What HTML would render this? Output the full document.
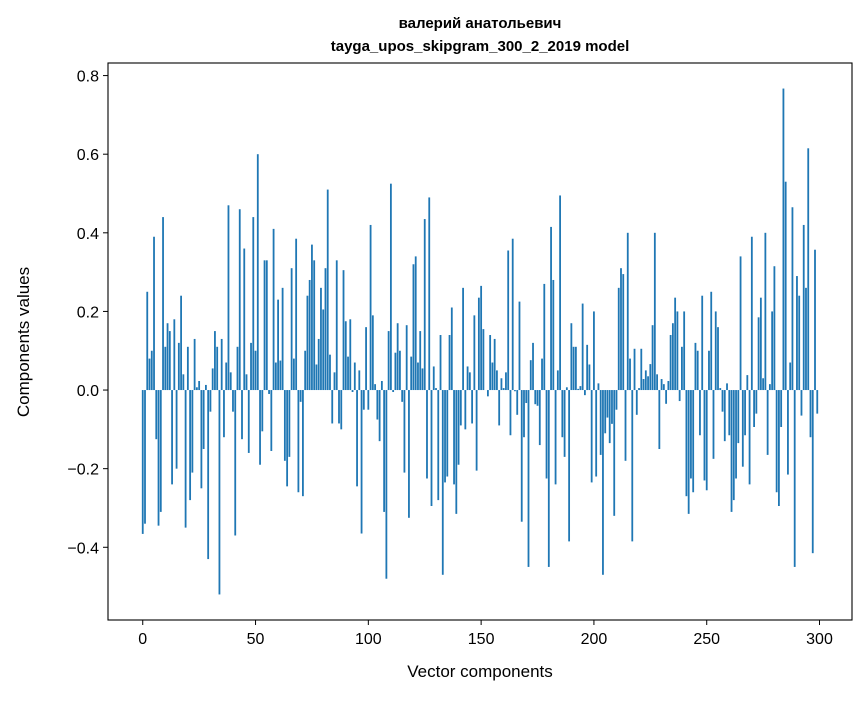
<!DOCTYPE html>
<html><head><meta charset="utf-8"><style>
body{margin:0;background:#fff}
svg text{font-family:"Liberation Sans","DejaVu Sans",sans-serif;fill:#000}
</style></head><body>
<svg id="chart" width="867" height="696" xmlns="http://www.w3.org/2000/svg">
<rect width="867" height="696" fill="#fff"/>
<text x="480" y="28" font-size="15" font-weight="bold" text-anchor="middle">валерий анатольевич</text>
<text x="480" y="51" font-size="15" font-weight="bold" text-anchor="middle">tayga_upos_skipgram_300_2_2019 model</text>
<g id="bars"></g>
<g id="xticks"></g>
<g id="yticks"></g>
<rect x="108" y="63" width="744" height="557" fill="none" stroke="#000" stroke-width="1.1"/>
<text x="480" y="677" font-size="17" text-anchor="middle">Vector components</text>
<text transform="translate(29,342) rotate(-90)" font-size="17" text-anchor="middle">Components values</text>
</svg>
<script>
const values = [
-0.366,-0.34,0.25,0.08,0.10,0.39,-0.125,-0.345,-0.31,0.44,
0.11,0.17,0.15,-0.24,0.18,-0.20,0.12,0.24,0.04,-0.35,
0.11,-0.28,-0.21,0.13,0.007,0.023,-0.25,-0.15,0.013,-0.43,
-0.055,0.055,0.15,0.11,-0.52,0.13,-0.12,0.07,0.47,0.045,
-0.055,-0.37,0.11,0.46,-0.125,0.36,0.04,-0.16,0.12,0.44,
0.10,0.60,-0.19,-0.105,0.33,0.33,-0.01,-0.155,0.41,0.07,
0.23,0.075,0.26,-0.18,-0.245,-0.17,0.31,0.08,0.385,-0.26,
-0.03,-0.27,0.10,0.24,0.28,0.37,0.33,0.065,0.13,0.26,
0.205,0.31,0.51,0.09,-0.085,0.045,0.33,-0.085,-0.10,0.305,
0.175,0.085,0.18,-0.005,0.07,-0.245,0.05,-0.365,-0.05,0.16,
-0.05,0.42,0.19,0.015,-0.075,-0.13,0.023,-0.31,-0.48,0.15,
0.525,-0.005,0.095,0.17,0.10,-0.03,-0.21,0.165,-0.325,0.085,
0.32,0.34,0.07,0.15,0.055,0.435,-0.225,0.49,-0.295,0.06,
0.005,-0.28,0.14,-0.47,-0.235,-0.22,0.14,0.21,-0.24,-0.315,
-0.19,-0.09,0.26,-0.10,0.06,0.045,-0.085,0.19,-0.205,0.235,
0.265,0.155,0.0,-0.016,0.14,0.07,0.13,0.05,-0.09,0.03,
0.005,0.045,0.355,-0.115,0.385,-0.003,-0.063,0.225,-0.335,-0.12,
-0.033,-0.45,0.076,0.12,-0.036,-0.04,-0.14,0.08,0.27,-0.225,
-0.45,0.415,0.28,-0.24,0.05,0.495,-0.12,-0.17,0.007,-0.385,
0.17,0.11,0.11,0.003,0.01,0.22,-0.013,0.115,0.065,-0.235,
0.2,-0.22,0.017,-0.165,-0.47,-0.11,-0.07,-0.135,-0.086,-0.32,
-0.05,0.26,0.31,0.295,-0.18,0.40,0.08,-0.385,0.105,-0.063,
0.005,0.105,0.028,0.05,0.035,0.066,0.165,0.40,0.04,-0.15,
0.028,0.015,-0.035,0.023,0.14,0.17,0.235,0.2,-0.028,0.11,
0.2,-0.27,-0.315,-0.225,-0.26,0.12,0.10,-0.115,0.24,-0.23,
-0.255,0.10,0.25,-0.175,0.2,0.16,0.005,-0.055,-0.13,0.017,
-0.115,-0.31,-0.28,-0.225,-0.135,0.34,-0.195,-0.115,0.038,-0.24,
0.39,-0.094,-0.06,0.185,0.235,0.03,0.40,-0.165,0.015,0.2,
0.315,-0.26,-0.295,-0.094,0.767,0.53,-0.215,0.07,0.465,-0.45,
0.29,0.24,-0.065,0.42,0.26,0.615,-0.12,-0.415,0.357,-0.06
];
const xTickValues = [0,50,100,150,200,250,300];
const yTickValues = [-0.4,-0.2,0.0,0.2,0.4,0.6,0.8];
const yTickLabels = ["\u22120.4","\u22120.2","0.0","0.2","0.4","0.6","0.8"];

const L=108,R=852,T=63,B=620;
const xMin=-15.4,xMax=314.4,yMin=-0.585,yMax=0.832;
const xs=v=>L+(v-xMin)/(xMax-xMin)*(R-L);
const ys=v=>B-(v-yMin)/(yMax-yMin)*(B-T);
const NS="http://www.w3.org/2000/svg";
const bars=document.getElementById('bars');
values.forEach((v,i)=>{
  const r=document.createElementNS(NS,'rect');
  const x0=xs(i-0.4),x1=xs(i+0.4);
  const y0=ys(Math.max(v,0)),y1=ys(Math.min(v,0));
  r.setAttribute('x',x0);r.setAttribute('width',x1-x0);
  r.setAttribute('y',y0);r.setAttribute('height',Math.max(y1-y0,0.01));
  r.setAttribute('fill','#1f77b4');
  
  
  bars.appendChild(r);
});
const xt=document.getElementById('xticks');
xTickValues.forEach(v=>{
  const x=xs(v);
  const l=document.createElementNS(NS,'line');
  l.setAttribute('x1',x);l.setAttribute('x2',x);l.setAttribute('y1',B);l.setAttribute('y2',B+5);
  l.setAttribute('stroke','#000');
  
  
  xt.appendChild(l);
  const t=document.createElementNS(NS,'text');
  t.setAttribute('x',x);t.setAttribute('y',B+24);t.setAttribute('font-size','16');t.setAttribute('text-anchor','middle');
  t.textContent=String(v);
  
  
  xt.appendChild(t);
});
const yt=document.getElementById('yticks');
yTickValues.forEach((v,i)=>{
  const y=ys(v);
  const l=document.createElementNS(NS,'line');
  l.setAttribute('x1',L-5);l.setAttribute('x2',L);l.setAttribute('y1',y);l.setAttribute('y2',y);
  l.setAttribute('stroke','#000');
  
  
  yt.appendChild(l);
  const t=document.createElementNS(NS,'text');
  t.setAttribute('x',L-9);t.setAttribute('y',y+6);t.setAttribute('font-size','16');t.setAttribute('text-anchor','end');
  t.textContent=yTickLabels[i];
  
  
  yt.appendChild(t);
});
</script>
</body></html>
